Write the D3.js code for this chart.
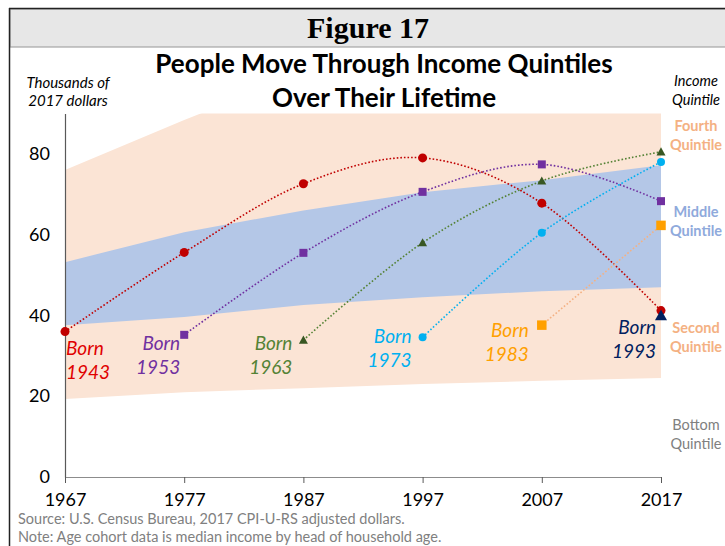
<!DOCTYPE html>
<html>
<head>
<meta charset="utf-8">
<script src="https://cdn.jsdelivr.net/npm/d3@7"></script>
<style>
  body { margin: 0; background: #fff; }
  svg { display: block; font-family: Lato, "Open Sans", sans-serif; }
</style>
</head>
<body>
<div id="chart"></div>
<script>
// quintile band edges (thousands of 2017 dollars)
var years = [1967, 1977, 1987, 1997, 2007, 2017]
var bottomTop = [19.3, 21, 22, 23, 23.8, 24.5]
var secondTop = [37.6, 39.6, 42.6, 44.5, 46, 47]
var middleTop = [53.2, 60.6, 66, 70.5, 73.5, 77.2]
var fourthTop = [76, 88.4, 100, 106, 112, 118]

// birth cohorts, median income by survey year
var cohorts = ['1943', '1953', '1963', '1973', '1983', '1993']
var born1943 = [36, 55.6, 72.6, 79, 67.8, 41.2]
var born1953 = [35.2, 55.5, 70.6, 77.4, 68.3]
var born1963 = [33.9, 58, 73.3, 80.5]
var born1973 = [34.6, 60.5, 78]
var born1983 = [37.6, 62.3]
var born1993 = [40]

var yTicks = [0, 20, 40, 60, 80]

var W = 725, H = 546

var svg = d3.select('#chart').append('svg')
  .attr('width', W)
  .attr('height', H)

var x = d3.scaleLinear().domain([1967, 2017]).range([65, 661])
var y = d3.scaleLinear().domain([0, 90]).range([477, 113.5])

/**
 * frame + header
 */
svg.append('rect')
  .attr('x', 10).attr('y', 9).attr('width', W).attr('height', 38)
  .style('fill', '#e7e7e7')
  .style('stroke', '#a6a6a6').style('stroke-width', 1.2)
svg.append('line')
  .attr('x1', 9).attr('y1', 8.5).attr('x2', W).attr('y2', 8.5)
  .style('stroke', '#222').style('stroke-width', 1.5)
svg.append('line')
  .attr('x1', 9.5).attr('y1', 8).attr('x2', 9.5).attr('y2', H)
  .style('stroke', '#222').style('stroke-width', 1.5)

svg.append('text')
  .attr('x', 368).attr('y', 38)
  .attr('text-anchor', 'middle')
  .style('font-family', '"Liberation Serif", "DejaVu Serif", serif')
  .style('font-weight', 'bold')
  .style('font-size', '30px')
  .text('Figure 17')

var title = svg.append('text')
  .attr('text-anchor', 'middle')
  .style('font-weight', 'bold')
  .style('font-size', '26px')
title.append('tspan').attr('x', 384).attr('y', 73).text('People Move Through Income Quintiles')
title.append('tspan').attr('x', 384).attr('y', 107).text('Over Their Lifetime')

var units = svg.append('text')
  .attr('text-anchor', 'middle')
  .style('font-style', 'italic')
  .style('font-size', '15px')
units.append('tspan').attr('x', 68).attr('y', 88).text('Thousands of')
units.append('tspan').attr('x', 68).attr('y', 106).text('2017 dollars')

/**
 * quintile bands
 */
svg.append('defs').append('clipPath').attr('id', 'plot')
  .append('rect')
  .attr('x', x(1967)).attr('y', y(90))
  .attr('width', x(2017) - x(1967)).attr('height', y(0) - y(90))

var band = function (lo, hi) {
  return d3.area()
    .x(function (d, i) { return x(years[i]) })
    .y0(function (d, i) { return y(lo[i]) })
    .y1(function (d, i) { return y(hi[i]) })(years)
}

var bands = svg.append('g').attr('clip-path', 'url(#plot)')
bands.append('path').attr('d', band(bottomTop, fourthTop)).style('fill', '#fbe4d5')
bands.append('path').attr('d', band(secondTop, middleTop)).style('fill', '#b4c7e7')

/**
 * axes
 */
var yAxis = svg.append('g')
  .attr('transform', 'translate(' + x(1967) + ',0)')
  .call(d3.axisLeft(y).tickValues(yTicks).tickSize(0).tickPadding(15))
yAxis.select('.domain').style('stroke', '#595959').style('stroke-width', 1.2)
yAxis.selectAll('text')
  .style('font-size', '18px').style('fill', '#000')
  .style('font-family', 'Lato, sans-serif')

var xAxis = svg.append('g')
  .attr('transform', 'translate(0,' + y(0) + ')')
  .call(d3.axisBottom(x).tickValues(years).tickFormat(d3.format('d')).tickSize(6).tickSizeOuter(0).tickPadding(10))
xAxis.select('.domain').style('stroke', '#8c8c8c').style('stroke-width', 1.2)
xAxis.selectAll('.tick line').style('stroke', '#595959')
xAxis.selectAll('text')
  .style('font-size', '18px').style('fill', '#000')
  .style('font-family', 'Lato, sans-serif')

/**
 * cohort lines
 */
var series = [
  { name: cohorts[0], values: born1943, line: '#c00000', mark: '#c00000', shape: 'circle', size: 9 },
  { name: cohorts[1], values: born1953, line: '#7030a0', mark: '#7030a0', shape: 'square', size: 8 },
  { name: cohorts[2], values: born1963, line: '#548235', mark: '#385723', shape: 'triangle', size: 9 },
  { name: cohorts[3], values: born1973, line: '#00b0f0', mark: '#00b0f0', shape: 'circle', size: 8 },
  { name: cohorts[4], values: born1983, line: '#f4b183', mark: '#ffa000', shape: 'square', size: 9.5 },
  { name: cohorts[5], values: born1993, line: '#002060', mark: '#002060', shape: 'triangle', size: 12 }
]

var labelColors = ['#e00000', '#7030a0', '#548235', '#00b0f0', '#ffa000', '#002060']
// label offset from first point: [dx, dy, anchor]
var labelPos = [[1, 23, 'start'], [-4, 15, 'end'], [-11, 10, 'end'], [-11, 6, 'end'], [-13, 12, 'end'], [-5, 19, 'end']]

var line = d3.line()
  .x(function (d) { return x(d.year) })
  .y(function (d) { return y(d.value) })
  .curve(d3.curveCardinal.tension(0))

series.forEach(function (s, k) {
  var n = s.values.length
  var pts = s.values.map(function (v, i) {
    return { year: years[years.length - n + i], value: v }
  })
  svg.append('path')
    .attr('d', line(pts))
    .style('fill', 'none')
    .style('stroke', s.line)
    .style('stroke-width', 1.6)
    .style('stroke-dasharray', '1.6,2')

  pts.forEach(function (p) {
    var cx = x(p.year), cy = y(p.value), r = s.size / 2
    if (s.shape === 'circle') {
      svg.append('circle').attr('cx', cx).attr('cy', cy).attr('r', r).style('fill', s.mark)
    } else if (s.shape === 'square') {
      svg.append('rect').attr('x', cx - r).attr('y', cy - r)
        .attr('width', s.size).attr('height', s.size).style('fill', s.mark)
    } else {
      svg.append('path')
        .attr('d', 'M' + cx + ',' + (cy - r) + 'L' + (cx + r) + ',' + (cy + r * 0.8) + 'L' + (cx - r) + ',' + (cy + r * 0.8) + 'Z')
        .style('fill', s.mark)
    }
  })

  var p0 = pts[0], lp = labelPos[k]
  var lab = svg.append('text')
    .attr('text-anchor', lp[2])
    .style('font-style', 'italic')
    .style('font-size', '19px')
    .style('fill', labelColors[k])
  lab.append('tspan').attr('x', x(p0.year) + lp[0]).attr('y', y(p0.value) + lp[1]).text('Born')
  lab.append('tspan').attr('x', x(p0.year) + lp[0]).attr('y', y(p0.value) + lp[1] + 24).text(s.name)
})

/**
 * right-hand quintile labels
 */
var quintiles = [
  { text: ['Income', 'Quintile'], y: 86, color: '#000', weight: 'normal', style: 'italic', size: 14.5 },
  { text: ['Fourth', 'Quintile'], y: 131, color: '#f4b183', weight: 'bold', style: 'normal', size: 14.5 },
  { text: ['Middle', 'Quintile'], y: 217, color: '#8faadc', weight: 'bold', style: 'normal', size: 14.5 },
  { text: ['Second', 'Quintile'], y: 333, color: '#f4b183', weight: 'bold', style: 'normal', size: 14.5 },
  { text: ['Bottom', 'Quintile'], y: 430, color: '#808080', weight: 'normal', style: 'normal', size: 14.5 }
]
quintiles.forEach(function (q) {
  var t = svg.append('text')
    .attr('text-anchor', 'middle')
    .style('fill', q.color)
    .style('font-weight', q.weight)
    .style('font-style', q.style)
    .style('font-size', q.size + 'px')
  t.append('tspan').attr('x', 696).attr('y', q.y).text(q.text[0])
  t.append('tspan').attr('x', 696).attr('y', q.y + 19).text(q.text[1])
})

/**
 * notes
 */
var notes = svg.append('text')
  .style('fill', '#808080')
  .style('font-size', '14.5px')
notes.append('tspan').attr('x', 18).attr('y', 524).text('Source: U.S. Census Bureau, 2017 CPI-U-RS adjusted dollars.')
notes.append('tspan').attr('x', 18).attr('y', 542).text('Note: Age cohort data is median income by head of household age.')
</script>
</body>
</html>
